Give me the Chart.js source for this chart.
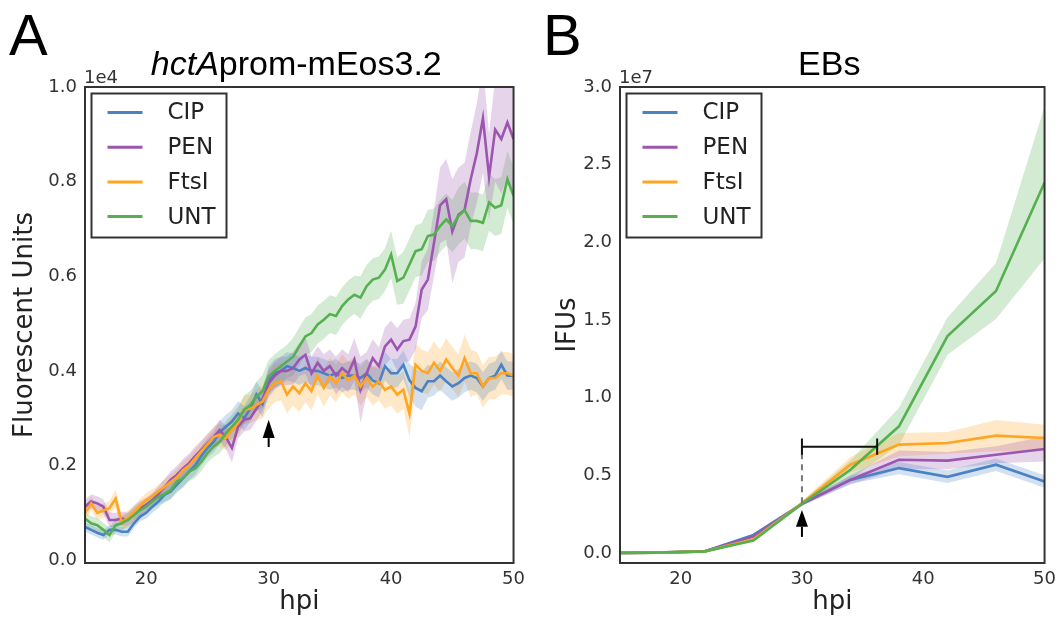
<!DOCTYPE html>
<html>
<head>
<meta charset="utf-8">
<script src="https://cdn.jsdelivr.net/npm/chart.js@4.4.1/dist/chart.umd.min.js"></script>
<style>
    html, body { margin: 0; padding: 0; background: #fff; }
    #wrap { position: relative; width: 1062px; height: 622px; }
    .panel { position: absolute; top: 0; width: 531px; height: 622px; }
</style>
</head>
<body>
<div id="wrap">
    <div class="panel" style="left:0"><canvas id="chartA" width="531" height="622"></canvas></div>
    <div class="panel" style="left:531px"><canvas id="chartB" width="531" height="622"></canvas></div>
</div>
<script>
// -------- DATA: panel A (fluorescence, every 0.5 h) --------
const tA = [15, 15.5, 16, 16.5, 17, 17.5, 18, 18.5, 19, 19.5,
    20, 20.5, 21, 21.5, 22, 22.5, 23, 23.5, 24, 24.5,
    25, 25.5, 26, 26.5, 27, 27.5, 28, 28.5, 29, 29.5,
    30, 30.5, 31, 31.5, 32, 32.5, 33, 33.5, 34, 34.5,
    35, 35.5, 36, 36.5, 37, 37.5, 38, 38.5, 39, 39.5,
    40, 40.5, 41, 41.5, 42, 42.5, 43, 43.5, 44, 44.5,
    45, 45.5, 46, 46.5, 47, 47.5, 48, 48.5, 49, 49.5, 50];

const cipA = [700, 640, 580, 530, 640, 640, 600, 600, 780, 920,
    1000, 1130, 1240, 1380, 1450, 1590, 1730, 1870, 2000, 2200,
    2370, 2500, 2700, 2820, 2930, 3100, 3000, 3200, 3500, 3300,
    3800, 3950, 4000, 4100, 4060, 4000, 4060, 4000, 4000, 3950,
    3900, 3950, 3850, 3900, 3900, 3850, 3950, 3800, 3740, 4100,
    3950, 3950, 4130, 3800, 3640, 3570, 3780, 3780, 3900, 3780,
    3670, 3740, 3850, 3900, 3850, 3670, 3850, 3900, 4130, 3900, 3900];
const penA = [1130, 1240, 1200, 1130, 850, 850, 880, 850, 1000, 1100,
    1170, 1270, 1400, 1550, 1700, 1800, 1940, 2050, 2200, 2330,
    2470, 2600, 2750, 2600, 2370, 2820, 2970, 3000, 3200, 3400,
    3740, 3900, 4000, 4000, 4060, 4240, 4340, 3950, 4170, 4000,
    4100, 3900, 4060, 3950, 4240, 3600, 3950, 4270, 4100, 4520,
    4660, 4450, 4630, 4660, 4940, 5720, 5930, 6700, 7500, 7630,
    6950, 7300, 7400, 8050, 8600, 9340, 8100, 9100, 8900, 9250, 8900];
const ftsA = [1000, 1200, 1000, 1050, 1100, 1300, 800, 900, 1000, 1150,
    1270, 1350, 1450, 1550, 1650, 1750, 1900, 2000, 2150, 2300,
    2450, 2600, 2650, 2580, 2750, 2900, 3180, 3200, 3280, 3350,
    3600, 3740, 3780, 3500, 3670, 3530, 3740, 3570, 3900, 3640,
    3880, 3740, 3950, 3800, 3900, 3670, 3850, 3670, 3780, 3600,
    3670, 3500, 3600, 3100, 4130, 4000, 3950, 4170, 4000, 4240,
    4060, 3900, 4270, 3950, 3950, 3670, 3850, 3850, 3950, 3950, 3900];
const untA = [880, 780, 740, 640, 530, 740, 780, 850, 950, 1060,
    1130, 1240, 1340, 1400, 1480, 1660, 1730, 1870, 1940, 2080,
    2260, 2400, 2500, 2680, 2820, 2970, 3180, 3280, 3460, 3570,
    3880, 4000, 4100, 4200, 4300, 4520, 4730, 4800, 4980, 5080,
    5200, 5160, 5370, 5510, 5610, 5550, 5790, 5930, 5970, 6140,
    6460, 5900, 5970, 6250, 6530, 6570, 6850, 6880, 7060, 7200,
    7060, 7270, 7400, 7170, 7170, 7130, 7560, 7450, 7500, 8050, 7700];

// half width of the shaded bands
const cipSdA = [100, 100, 100, 100, 100, 100, 100, 100, 100, 100,
    120, 130, 140, 150, 160, 170, 180, 180, 200, 200,
    200, 220, 240, 250, 250, 260, 260, 270, 280, 280,
    300, 300, 300, 300, 300, 300, 300, 300, 300, 300,
    300, 300, 300, 300, 300, 300, 300, 300, 300, 300,
    300, 300, 300, 350, 400, 400, 350, 300, 300, 300,
    300, 300, 300, 300, 300, 300, 300, 300, 300, 300, 300];
const penSdA = [150, 150, 150, 150, 150, 150, 150, 150, 150, 150,
    150, 150, 160, 170, 180, 190, 200, 200, 200, 200,
    200, 200, 220, 250, 300, 250, 250, 250, 250, 250,
    300, 300, 300, 300, 350, 350, 400, 350, 350, 350,
    350, 400, 400, 400, 450, 700, 450, 400, 400, 400,
    400, 450, 450, 450, 500, 600, 650, 700, 800, 850,
    1100, 1000, 1000, 1000, 1050, 1150, 900, 1100, 1150, 1150, 1150];
const ftsSdA = [150, 150, 150, 150, 150, 200, 150, 150, 150, 150,
    150, 150, 150, 160, 170, 180, 190, 200, 200, 200,
    200, 220, 240, 250, 260, 280, 300, 300, 320, 350,
    400, 400, 400, 400, 400, 400, 400, 400, 400, 400,
    400, 400, 400, 400, 400, 400, 400, 400, 400, 400,
    400, 400, 400, 500, 450, 450, 450, 450, 450, 450,
    450, 450, 500, 500, 450, 450, 450, 450, 450, 450, 450];
const untSdA = [150, 150, 150, 150, 150, 150, 150, 150, 150, 150,
    150, 160, 170, 180, 190, 200, 200, 200, 200, 200,
    200, 220, 240, 250, 260, 280, 300, 300, 300, 350,
    350, 350, 350, 350, 400, 400, 400, 400, 400, 400,
    400, 400, 400, 400, 400, 450, 450, 450, 450, 450,
    500, 500, 550, 550, 550, 550, 550, 550, 550, 550,
    550, 600, 600, 600, 600, 600, 600, 600, 600, 600, 600];

// -------- DATA: panel B (IFUs, every 4 h) --------
const tB = [14, 18, 22, 26, 30, 34, 38, 42, 46, 50];
const cipB = [0, 20000, 100000, 1160000, 3160000, 4700000, 5460000, 4900000, 5680000, 4600000];
const penB = [0, 20000, 100000, 1050000, 3160000, 4700000, 6000000, 5940000, 6320000, 6690000];
const ftsB = [0, 20000, 100000, 880000, 3200000, 5680000, 6970000, 7080000, 7550000, 7400000];
const untB = [0, 20000, 100000, 800000, 3160000, 5350000, 8150000, 13960000, 16860000, 23850000];
const cipSdB = [0, 0, 10000, 50000, 100000, 250000, 400000, 400000, 400000, 400000];
const penSdB = [0, 0, 10000, 50000, 100000, 300000, 600000, 550000, 550000, 800000];
const ftsSdB = [0, 0, 10000, 50000, 150000, 500000, 750000, 700000, 1000000, 850000];
const untSdB = [0, 0, 10000, 50000, 150000, 600000, 1200000, 1200000, 1800000, 4900000];

// -------- AXES --------
const xTicks = [20, 30, 40, 50];
const yTicksA = [0, 2000, 4000, 6000, 8000, 10000];
const yTicksB = [0, 5000000, 10000000, 15000000, 20000000, 25000000, 30000000];

const seriesNames = ["CIP", "PEN", "FtsI", "UNT"];
const colors = ["#4a82c4", "#9c55b0", "#ffa51f", "#55b050"];
const fills = ["rgba(74,130,196,0.25)", "rgba(156,85,176,0.25)", "rgba(255,165,31,0.25)", "rgba(85,176,80,0.25)"];

// annotations (data units)
const arrowA = { x: 30, tip: 2970, base: 2580, end: 2390 };
const arrowB = { x: 30, tip: 2770000, base: 1680000, end: 1030000 };
const bracketB = { x0: 30, x1: 36.2, y: 6840000, cap: 520000, dashFrom: 3200000 };

const FONT = '"DejaVu Sans", sans-serif';
const HFONT = '"Liberation Sans", Arial, sans-serif';

function buildDatasets(t, means, sds) {
    const bands = [];
    const lines = [];
    means.forEach((m, k) => {
        bands.push({
            data: t.map((x, i) => ({ x, y: m[i] - sds[k][i] })),
            borderColor: "rgba(0,0,0,0)", borderWidth: 0, pointRadius: 0,
            fill: false, order: 10
        });
        bands.push({
            data: t.map((x, i) => ({ x, y: m[i] + sds[k][i] })),
            borderColor: "rgba(0,0,0,0)", borderWidth: 0, pointRadius: 0,
            fill: "-1", backgroundColor: fills[k], order: 10
        });
        lines.push({
            label: seriesNames[k],
            data: t.map((x, i) => ({ x, y: m[i] })),
            borderColor: colors[k], borderWidth: 2.6, pointRadius: 0,
            fill: false, order: 4 - k, isLine: true
        });
    });
    return bands.concat(lines);
}

// frame, legend, arrow, bracket, titles
const decor = {
    id: "decor",
    afterDatasetsDraw(chart, args, o) {
        const { ctx, chartArea: a, scales: { x, y } } = chart;
        ctx.save();

        // bracket + dashed line (panel B)
        if (o.bracket) {
            const b = o.bracket;
            const px0 = x.getPixelForValue(b.x0), px1 = x.getPixelForValue(b.x1);
            const py = y.getPixelForValue(b.y);
            const capT = y.getPixelForValue(b.y + b.cap), capB = y.getPixelForValue(b.y - b.cap);
            ctx.strokeStyle = "#777";
            ctx.lineWidth = 2;
            ctx.setLineDash([6, 5]);
            ctx.beginPath();
            ctx.moveTo(px0, y.getPixelForValue(b.dashFrom));
            ctx.lineTo(px0, py);
            ctx.stroke();
            ctx.setLineDash([]);
            ctx.strokeStyle = "#111";
            ctx.beginPath();
            ctx.moveTo(px0, py); ctx.lineTo(px1, py);
            ctx.moveTo(px0, capT); ctx.lineTo(px0, capB);
            ctx.moveTo(px1, capT); ctx.lineTo(px1, capB);
            ctx.stroke();
        }

        // arrow
        const ar = o.arrow;
        const ax = x.getPixelForValue(ar.x);
        const tip = y.getPixelForValue(ar.tip), base = y.getPixelForValue(ar.base), end = y.getPixelForValue(ar.end);
        ctx.strokeStyle = "#000";
        ctx.fillStyle = "#000";
        ctx.lineWidth = 2;
        ctx.beginPath();
        ctx.moveTo(ax, base); ctx.lineTo(ax, end);
        ctx.stroke();
        ctx.beginPath();
        ctx.moveTo(ax, tip); ctx.lineTo(ax - 6, base); ctx.lineTo(ax + 6, base);
        ctx.closePath();
        ctx.fill();

        // frame
        ctx.strokeStyle = "#333";
        ctx.lineWidth = 2;
        ctx.strokeRect(a.left, a.top, a.right - a.left, a.bottom - a.top);

        // legend
        const lx = a.left + 6.5, ly = a.top + 6.5;
        ctx.fillStyle = "#fff";
        ctx.fillRect(lx, ly, 135, 144);
        ctx.strokeRect(lx, ly, 135, 144);
        ctx.font = "23px " + FONT;
        ctx.textBaseline = "middle";
        ctx.textAlign = "left";
        chart.data.datasets.filter(d => d.isLine).forEach((d, i) => {
            const ry = ly + 19 + i * 34.7;
            ctx.strokeStyle = d.borderColor;
            ctx.lineWidth = 3;
            ctx.beginPath();
            ctx.moveTo(lx + 16, ry); ctx.lineTo(lx + 51, ry);
            ctx.stroke();
            ctx.fillStyle = "#222";
            ctx.fillText(d.label, lx + 76, ry + 1);
        });

        // offset text
        ctx.fillStyle = "#333";
        ctx.font = "18px " + FONT;
        ctx.textBaseline = "alphabetic";
        ctx.fillText(o.offset, a.left - 1, a.top - 4);

        // panel letter
        ctx.fillStyle = "#000";
        ctx.font = "58px " + HFONT;
        ctx.fillText(o.letter, o.letterX, 55);

        // title (parts may be italic)
        const cx = (a.left + a.right) / 2 - 3;
        const widths = o.title.map(p => {
            ctx.font = (p.italic ? "italic " : "") + "34px " + HFONT;
            return ctx.measureText(p.text).width;
        });
        let tx = cx - widths.reduce((s, w) => s + w, 0) / 2;
        o.title.forEach((p, i) => {
            ctx.font = (p.italic ? "italic " : "") + "34px " + HFONT;
            ctx.fillText(p.text, tx, 75);
            tx += widths[i];
        });
        ctx.restore();
    }
};

function makeChart(id, cfg) {
    return new Chart(document.getElementById(id), {
        type: "line",
        data: { datasets: buildDatasets(cfg.t, cfg.means, cfg.sds) },
        plugins: [decor],
        options: {
            responsive: false,
            animation: false,
            events: [],
            layout: { padding: { top: 87, right: cfg.padRight, left: 0, bottom: 0 } },
            plugins: {
                legend: { display: false },
                tooltip: { enabled: false },
                decor: cfg.decor
            },
            scales: {
                x: {
                    type: "linear", min: 15, max: 50,
                    grid: { display: false, drawTicks: false },
                    border: { display: false },
                    afterBuildTicks: s => { s.ticks = xTicks.map(v => ({ value: v })); },
                    afterFit: s => { s.height = 59; },
                    ticks: { color: "#333", font: { family: FONT, size: 18 }, padding: 6, maxRotation: 0 },
                    title: { display: true, text: "hpi", color: "#222", font: { family: FONT, size: 26 }, padding: { top: 0, bottom: 4 } }
                },
                y: {
                    type: "linear", min: cfg.yMin, max: cfg.yMax,
                    grid: { display: false, drawTicks: false },
                    border: { display: false },
                    afterBuildTicks: s => { s.ticks = cfg.yTicks.map(v => ({ value: v })); },
                    afterFit: s => { s.width = cfg.yWidth; },
                    ticks: { color: "#333", font: { family: FONT, size: 18 }, padding: 8, callback: cfg.fmt },
                    title: { display: true, text: cfg.yTitle, color: "#222", font: { family: FONT, size: 26 }, padding: { top: cfg.yTitlePad, bottom: 0 } }
                }
            }
        }
    });
}

makeChart("chartA", {
    t: tA,
    means: [cipA, penA, ftsA, untA],
    sds: [cipSdA, penSdA, ftsSdA, untSdA],
    yMin: -60, yMax: 10000, yTicks: yTicksA,
    fmt: v => (v / 1e4).toFixed(1),
    yWidth: 85, padRight: 15,
    yTitle: "Fluorescent Units", yTitlePad: 10,
    decor: {
        arrow: arrowA, offset: "1e4", letter: "A", letterX: 9,
        title: [{ text: "hctA", italic: true }, { text: "prom-mEos3.2" }]
    }
});

makeChart("chartB", {
    t: tB,
    means: [cipB, penB, ftsB, untB],
    sds: [cipSdB, penSdB, ftsSdB, untSdB],
    yMin: -650000, yMax: 30000000, yTicks: yTicksB,
    fmt: v => (v / 1e7).toFixed(1),
    yWidth: 89, padRight: 12,
    yTitle: "IFUs", yTitlePad: 22,
    decor: {
        arrow: arrowB, bracket: bracketB, offset: "1e7", letter: "B", letterX: 12,
        title: [{ text: "EBs" }]
    }
});
</script>
</body>
</html>
